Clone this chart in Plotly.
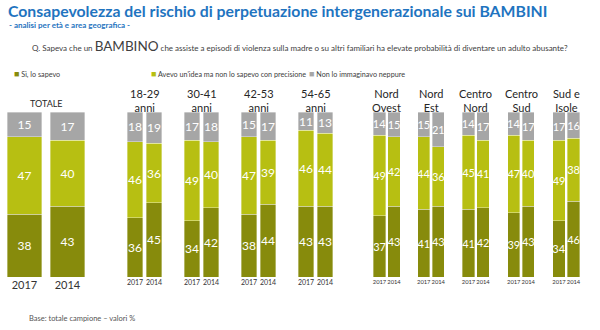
import plotly.graph_objects as go

# ---------------- data ----------------
groups = ["TOTALE", "18-29<br>anni", "30-41<br>anni", "42-53<br>anni", "54-65<br>anni",
          "Nord<br>Ovest", "Nord<br>Est", "Centro<br>Nord", "Centro<br>Sud", "Sud e<br>Isole"]
years = ["2017", "2014"]
si_sapevo = [[38, 43], [36, 45], [34, 42], [38, 44], [43, 43],
             [37, 43], [41, 43], [41, 42], [39, 43], [34, 46]]
avevo_idea = [[47, 40], [46, 36], [49, 40], [47, 39], [46, 44],
              [49, 42], [44, 36], [45, 41], [47, 40], [49, 38]]
non_immaginavo = [[15, 17], [18, 19], [17, 18], [15, 17], [11, 13],
                  [14, 15], [15, 21], [14, 17], [14, 17], [17, 16]]
series_names = ["Sì, lo sapevo", "Avevo un'idea ma non lo sapevo con precisione",
                "Non lo immaginavo neppure"]

# ---------------- style / layout ----------------
W, H = 600, 330
colors = ["#878b0c", "#b7bf12", "#a6a6a6"]
FONT = "Lato"
px_domains = [(3, 89), (125.5, 163.5), (182.5, 220.5), (239.5, 277.5), (296.5, 334.5),
              (372.25, 401.25), (416.5, 445.5), (461.25, 490.25), (506.5, 535.5), (551.75, 580.75)]
bar_w = [0.81, 0.84, 0.84, 0.84, 0.84, 0.86, 0.86, 0.86, 0.86, 0.86]
tick_size = [11, 7, 7, 7, 7, 5.8, 5.8, 5.8, 5.8, 5.8]
plot_top, plot_bot = 112, 277
ydom = [(H - plot_bot) / H, (H - plot_top) / H]
legend_px = [12, 149, 307]


def py(y):
    return 1 - y / H


fig = go.Figure()
all_series = [si_sapevo, avevo_idea, non_immaginavo]
layout_axes = {}
for g in range(len(groups)):
    xa = "x" if g == 0 else f"x{g+1}"
    ya = "y" if g == 0 else f"y{g+1}"
    for s, vals in enumerate(all_series):
        fig.add_trace(go.Bar(
            x=years, y=vals[g], xaxis=xa, yaxis=ya, name=series_names[s],
            width=bar_w[g],
            marker=dict(color=colors[s], line=dict(color="rgba(255,255,255,0.6)", width=0.6)),
            text=vals[g], textposition="inside", insidetextanchor="middle",
            textangle=0,
            textfont=dict(color="white", size=12 if g < 5 else 11, family=FONT),
            showlegend=False, hoverinfo="skip",
        ))
    d = px_domains[g]
    layout_axes["xaxis" if g == 0 else f"xaxis{g+1}"] = dict(
        domain=[d[0] / W, d[1] / W], anchor=ya, type="category",
        categoryorder="array", categoryarray=years, range=[-0.5, 1.5],
        showgrid=False, zeroline=False, showline=False, ticks="", tickangle=0,
        tickfont=dict(size=tick_size[g], color="#333333", family=FONT),
        fixedrange=True,
    )
    layout_axes["yaxis" if g == 0 else f"yaxis{g+1}"] = dict(
        domain=ydom, anchor=xa, range=[0, 100], visible=False, fixedrange=True,
    )

annotations = [
    dict(text="<b>Consapevolezza del rischio di perpetuazione intergenerazionale sui BAMBINI</b>",
         x=6 / W, y=py(11), font=dict(size=15.8, color="#1f74c0", family=FONT), xanchor="left"),
    dict(text="<b>- analisi per età e area geografica -</b>",
         x=7 / W, y=py(25), font=dict(size=8, color="#1f74c0", family=FONT), xanchor="left"),
    dict(text="Q. Sapeva che un <span style='font-size:13.5px'>BAMBINO</span> che assiste a episodi di violenza "
              "sulla madre o su altri familiari ha elevate probabilità di diventare un adulto abusante?",
         x=30 / W, y=py(46), font=dict(size=8, color="#404040", family=FONT), xanchor="left"),
    dict(text="Base: totale campione – valori %",
         x=27 / W, y=py(318), font=dict(size=7.5, color="#555555", family=FONT), xanchor="left"),
]
# legend entries (coloured square + label)
for s, name in enumerate(series_names):
    annotations.append(dict(
        text=f"<span style='color:{colors[s]};font-size:9px'>■</span> {name}",
        x=legend_px[s] / W, y=py(73), xanchor="left",
        font=dict(size=7.2, color="#404040", family=FONT),
    ))
for g, label in enumerate(groups):
    d = px_domains[g]
    annotations.append(dict(
        text=label, x=(d[0] + d[1]) / 2 / W, y=py(103 if g == 0 else 101),
        xanchor="center",
        font=dict(size=9 if g == 0 else 11, color="#262626", family=FONT),
    ))
for a in annotations:
    a.update(xref="paper", yref="paper", yanchor="middle", showarrow=False)

fig.update_layout(
    width=W, height=H, margin=dict(l=0, r=0, t=0, b=0),
    paper_bgcolor="white", plot_bgcolor="white",
    barmode="stack", annotations=annotations, showlegend=False,
    uniformtext=dict(minsize=11, mode="show"),
    font=dict(family=FONT),
    **layout_axes,
)

fig.write_html("out.html")
